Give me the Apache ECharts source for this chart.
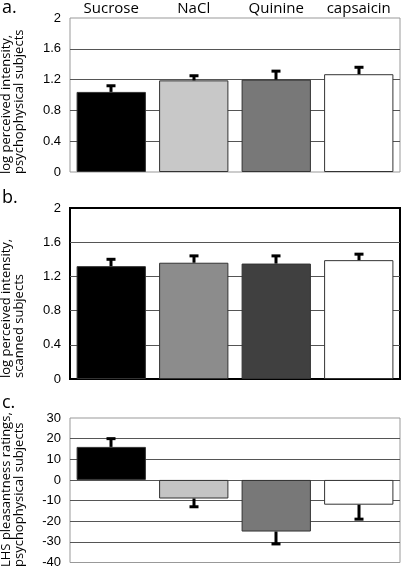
<!DOCTYPE html>
<html>
<head>
<meta charset="utf-8">
<script src="https://cdn.jsdelivr.net/npm/echarts@6/dist/echarts.min.js"></script>
<style>html,body{margin:0;padding:0;background:#fff}#c{width:406px;height:570px}</style>
</head>
<body>
<div id="c"></div>
<script>
var categories = ['Sucrose', 'NaCl', 'Quinine', 'capsaicin'];
var valuesA = [1.04, 1.19, 1.20, 1.27];
var errorsA = [0.08, 0.06, 0.11, 0.09];
var valuesB = [1.32, 1.36, 1.35, 1.39];
var errorsB = [0.08, 0.08, 0.09, 0.07];
var valuesC = [16, -9, -25, -12];
var errorsC = [4, 4, 6, 7];
var colorsA = ['#000000', '#c8c8c8', '#787878', '#ffffff'];
var colorsB = ['#000000', '#8c8c8c', '#404040', '#ffffff'];
var colorsC = ['#000000', '#c4c4c4', '#787878', '#ffffff'];
var ticksAB = [0, 0.4, 0.8, 1.2, 1.6, 2];
var ticksC = [-40, -30, -20, -10, 0, 10, 20, 30];
var yNameA = 'log perceived intensity,\npsychophysical subjects';
var yNameB = 'log perceived intensity,\nscanned subjects';
var yNameC = 'LHS pleasantness ratings,\npsychophysical subjects';

var chart = echarts.init(document.getElementById('c'), null, {renderer: 'canvas'});

function barData(vals, cols) {
  return vals.map(function (v, i) {
    return {value: v, itemStyle: {color: cols[i]}};
  });
}
function errData(vals, errs) {
  return vals.map(function (v, i) {
    return [i, v, v + (v >= 0 ? errs[i] : -errs[i])];
  });
}
function errRender(params, api) {
  var p0 = api.coord([api.value(0), api.value(1)]);
  var p1 = api.coord([api.value(0), api.value(2)]);
  var x = Math.round(p0[0]);
  return {
    type: 'group',
    children: [
      {type: 'line', shape: {x1: x, y1: p0[1], x2: x, y2: p1[1]}, style: {stroke: '#000', lineWidth: 3}},
      {type: 'line', shape: {x1: x - 4.5, y1: p1[1], x2: x + 4.5, y2: p1[1]}, style: {stroke: '#000', lineWidth: 3}}
    ]
  };
}

var grids = [
  {left: 70, right: 6, top: 18, height: 154, show: true, borderColor: '#999', borderWidth: 1},
  {left: 70, right: 6, top: 208, height: 171, show: true, borderColor: '#000', borderWidth: 2},
  {left: 70, right: 6, top: 418, height: 144.5, show: true, borderColor: '#999', borderWidth: 1}
];

function xAx(idx, showLabels) {
  return {
    type: 'category', gridIndex: idx, data: categories,
    position: showLabels ? 'top' : 'bottom',
    axisLine: {show: false}, axisTick: {show: false},
    axisLabel: {show: showLabels, interval: 0, fontFamily: 'Open Sans', fontSize: 15, color: '#000', margin: 2}
  };
}
function yAx(idx, ticks) {
  return {
    type: 'value', gridIndex: idx,
    min: ticks[0], max: ticks[ticks.length - 1], interval: ticks[1] - ticks[0],
    axisLine: {show: false}, axisTick: {show: false},
    axisLabel: {fontFamily: 'Liberation Sans', fontSize: 13, color: '#000', margin: 9},
    splitLine: {show: true, showMinLine: false, showMaxLine: false, lineStyle: {color: '#555', width: 1}}
  };
}
function barSeries(idx, vals, cols) {
  return {
    type: 'bar', xAxisIndex: idx, yAxisIndex: idx, data: barData(vals, cols),
    barCategoryGap: '16%',
    itemStyle: {borderColor: '#333', borderWidth: 1},
    silent: true, animation: false
  };
}
function errSeries(idx, vals, errs) {
  return {
    type: 'custom', xAxisIndex: idx, yAxisIndex: idx, data: errData(vals, errs),
    renderItem: errRender, z: 3, silent: true, animation: false
  };
}
function nameText(text, y) {
  return {
    type: 'text', x: 0, y: y, rotation: Math.PI / 2,
    style: {text: text, fontFamily: 'Open Sans', fontSize: 13, lineHeight: 13, fill: '#000', align: 'left', verticalAlign: 'top'}
  };
}
function letter(text, y) {
  return {
    type: 'text', x: 2, y: y,
    style: {text: text, fontFamily: 'Open Sans', fontSize: 18, fill: '#000', align: 'left', verticalAlign: 'middle'}
  };
}

chart.setOption({
  animation: false,
  grid: grids,
  xAxis: [xAx(0, true), xAx(1, false), xAx(2, false)],
  yAxis: [yAx(0, ticksAB), yAx(1, ticksAB), yAx(2, ticksC)],
  series: [
    barSeries(0, valuesA, colorsA), errSeries(0, valuesA, errorsA),
    barSeries(1, valuesB, colorsB), errSeries(1, valuesB, errorsB),
    barSeries(2, valuesC, colorsC), errSeries(2, valuesC, errorsC)
  ],
  graphic: [
    nameText(yNameA, 174), nameText(yNameB, 378), nameText(yNameC, 567),
    letter('a.', 8), letter('b.', 198), letter('c.', 403)
  ]
});
</script>
</body>
</html>
